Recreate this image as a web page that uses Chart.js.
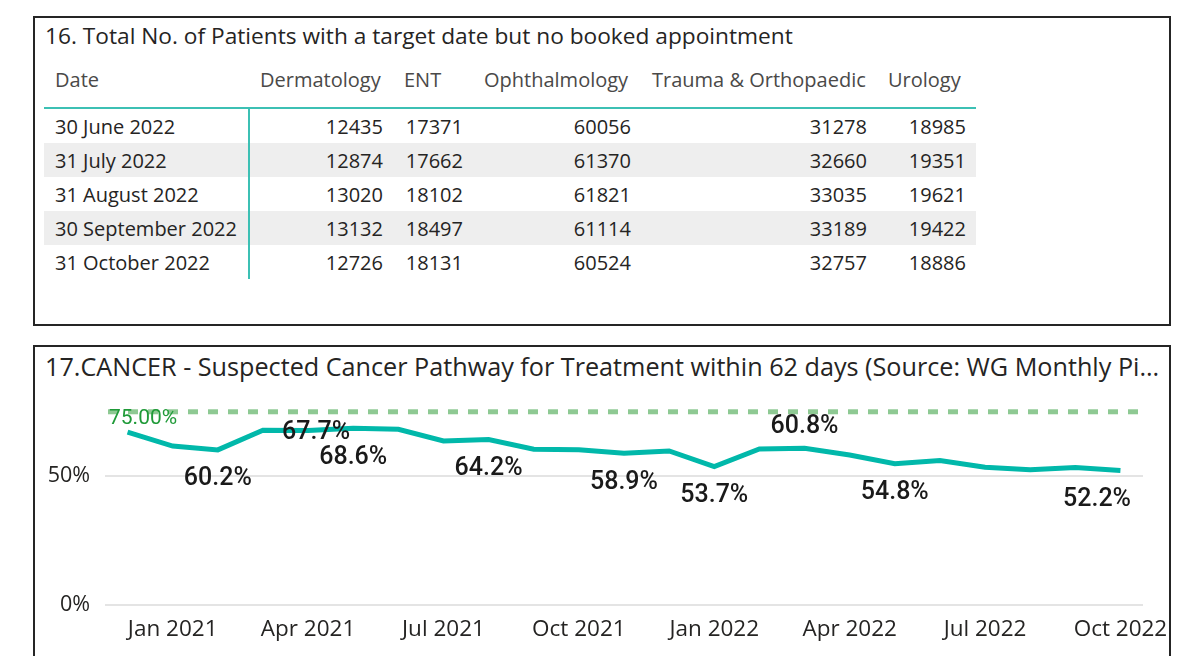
<!DOCTYPE html>
<html>
<head>
<meta charset="utf-8">
<script src="https://cdn.jsdelivr.net/npm/chart.js@4/dist/chart.umd.min.js"></script>
<style>
  body { margin: 0; background: #fff; font-family: "Open Sans", "Noto Sans", sans-serif; color: #252423; }
  .panel { position: absolute; border: 2px solid #252525; box-sizing: border-box; background: #fff; }
  #p1 { left: 33px; top: 16px; width: 1138px; height: 310px; }
  #p2 { left: 33px; top: 345px; width: 1138px; height: 330px; }
  .title { position: absolute; left: 10px; white-space: nowrap; }
  #t1 { top: 2px; font-size: 22.7px; }
  #t2 { top: 2px; font-size: 25.2px; }
  table { position: absolute; left: 9px; top: 42px; border-collapse: collapse; table-layout: fixed; font-size: 20px; }
  th { font-weight: normal; color: #4a4948; text-align: left; height: 48px; padding: 0 0 8px 11px; box-sizing: border-box; white-space: nowrap; border-bottom: 2px solid #3cc0b4; vertical-align: middle; }
  td { height: 34px; padding: 0 10px 0 11px; text-align: right; white-space: nowrap; }
  td.d { text-align: left; border-right: 2px solid #3cc0b4; }
  tr.alt td { background: #eeeeee; }
  #chartWrap { position: absolute; left: 1px; top: 24px; width: 1140px; height: 287px; }
</style>
</head>
<body>
<div class="panel" id="p1">
  <div class="title" id="t1">16. Total No. of Patients with a target date but no booked appointment</div>
  <table id="tbl"></table>
</div>
<div class="panel" id="p2">
  <div class="title" id="t2">17.CANCER - Suspected Cancer Pathway for Treatment within 62 days (Source: WG Monthly Pi...</div>
  <div id="chartWrap"><canvas id="myChart" width="1140" height="287"></canvas></div>
</div>
<script>
// table 16
var tableColumns = ['Date', 'Dermatology', 'ENT', 'Ophthalmology', 'Trauma & Orthopaedic', 'Urology'];
var tableDates = ['30 June 2022', '31 July 2022', '31 August 2022', '30 September 2022', '31 October 2022'];
var dermatology = [12435, 12874, 13020, 13132, 12726];
var ent = [17371, 17662, 18102, 18497, 18131];
var ophthalmology = [60056, 61370, 61821, 61114, 60524];
var traumaOrtho = [31278, 32660, 33035, 33189, 32757];
var urology = [18985, 19351, 19621, 19422, 18886];

// chart 17
var months = ['Dec 2020', 'Jan 2021', 'Feb 2021', 'Mar 2021', 'Apr 2021', 'May 2021', 'Jun 2021', 'Jul 2021',
  'Aug 2021', 'Sep 2021', 'Oct 2021', 'Nov 2021', 'Dec 2021', 'Jan 2022', 'Feb 2022', 'Mar 2022',
  'Apr 2022', 'May 2022', 'Jun 2022', 'Jul 2022', 'Aug 2022', 'Sep 2022', 'Oct 2022'];
var cancerPct = [67.1, 61.7, 60.2, 67.8, 67.7, 68.6, 68.2, 63.7, 64.2, 60.5, 60.3, 58.9, 59.8, 53.7,
  60.6, 60.8, 58.2, 54.8, 56.1, 53.5, 52.5, 53.4, 52.2];
var labelledPoints = [2, 4, 5, 8, 11, 13, 15, 17, 22];
var target = 75;
var yTicks = [0, 50];

// build table
var widths = [205, 144, 80, 168, 236, 99];
var cols = [dermatology, ent, ophthalmology, traumaOrtho, urology];
var html = '<colgroup>' + widths.map(function (w) { return '<col style="width:' + w + 'px">'; }).join('') + '</colgroup>';
html += '<tr>' + tableColumns.map(function (c) { return '<th>' + c.replace('&', '&amp;') + '</th>'; }).join('') + '</tr>';
for (var i = 0; i < tableDates.length; i++) {
  html += '<tr' + (i % 2 ? ' class="alt"' : '') + '><td class="d">' + tableDates[i] + '</td>';
  for (var j = 0; j < cols.length; j++) html += '<td>' + cols[j][i] + '</td>';
  html += '</tr>';
}
document.getElementById('tbl').innerHTML = html;

// target line + data labels
var extras = {
  id: 'extras',
  afterDatasetsDraw: function (chart) {
    var c = chart.ctx, a = chart.chartArea, y = chart.scales.y, x = chart.scales.x;
    var ty = y.getPixelForValue(target);
    c.save();
    c.strokeStyle = '#8ec993';
    c.lineWidth = 5;
    c.setLineDash([10, 10]);
    c.beginPath();
    c.moveTo(a.left + 3, ty);
    c.lineTo(a.right, ty);
    c.stroke();
    c.setLineDash([]);
    c.font = '21px Roboto';
    c.fillStyle = '#1f9a38';
    c.textAlign = 'left';
    c.textBaseline = 'middle';
    c.fillText(target.toFixed(2) + '%', a.left + 4, ty + 7);

    var offsets = { 4: 2, 15: -22 };
    c.font = '500 25px Roboto';
    c.fillStyle = '#1a1a1a';
    c.textAlign = 'center';
    labelledPoints.forEach(function (idx) {
      var txt = cancerPct[idx].toFixed(1) + '%';
      var px = x.getPixelForValue(idx), py = y.getPixelForValue(cancerPct[idx]);
      var off = offsets[idx] !== undefined ? offsets[idx] : 29;
      if (idx === 4) px += 8;
      // keep labels inside the plot area like Power BI does
      px = Math.min(px, a.right - 12 - c.measureText(txt).width / 2);
      c.fillText(txt, px, py + off);
    });
    c.restore();
  }
};

var ctx = document.getElementById('myChart').getContext('2d');
var chart = new Chart(ctx, {
  type: 'line',
  data: {
    labels: months,
    datasets: [{
      data: cancerPct,
      borderColor: '#01b8aa',
      borderWidth: 5,
      pointRadius: 0,
      tension: 0
    }]
  },
  options: {
    responsive: false,
    animation: false,
    layout: { padding: { top: 6.6, right: 33, bottom: 0, left: 0 } },
    plugins: { legend: { display: false }, tooltip: { enabled: false } },
    scales: {
      x: {
        offset: true,
        grid: { display: false },
        border: { display: false },
        afterFit: function (s) { s.height = 53; },
        ticks: {
          autoSkip: false,
          maxRotation: 0,
          padding: 3,
          color: '#252423',
          font: { family: 'Open Sans', size: 22.5 },
          callback: function (v, i) {
            var m = months[i].slice(0, 3);
            return (m === 'Jan' || m === 'Apr' || m === 'Jul' || m === 'Oct') ? months[i] : '';
          }
        }
      },
      y: {
        min: 0,
        max: 80,
        afterFit: function (s) { s.width = 69; },
        afterBuildTicks: function (s) { s.ticks = yTicks.map(function (v) { return { value: v }; }); },
        border: { display: false },
        grid: { color: '#e4e4e4', lineWidth: 2, drawTicks: false },
        ticks: {
          padding: 15,
          color: '#252423',
          font: { family: 'Open Sans', size: 21.5 },
          callback: function (v) { return v + '%'; }
        }
      }
    }
  },
  plugins: [extras]
});
</script>
</body>
</html>
